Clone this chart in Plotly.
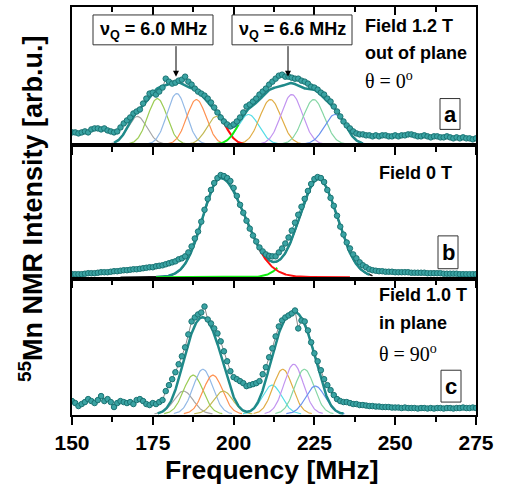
import numpy as np
import plotly.graph_objects as go

# ---------------- data (heights, arb. units) ----------------
FREQ = np.arange(150, 276, 1.0)  # MHz sampling of the spectra

A_DATA = [12, 12, 11, 12, 13, 12, 15, 16, 16, 15,
          16, 14, 13, 12, 13, 17, 21, 24, 27, 31,
          33, 35, 41, 46, 51, 52, 50, 53, 57, 66,
          63, 61, 62, 64, 65, 68, 63, 60, 56, 53,
          51, 49, 46, 42, 37, 32, 27, 23, 20, 18,
          20, 23, 27, 32, 38, 40, 43, 46, 50, 53,
          56, 60, 63, 66, 69, 70, 68, 68, 67, 66,
          66, 64, 63, 61, 58, 57, 55, 52, 50, 46,
          43, 38, 33, 28, 23, 19, 16, 13, 11, 10,
          10, 9, 9, 8, 9, 8, 9, 9, 8, 8,
          9, 8, 9, 9, 10, 10, 9, 8, 8, 9,
          8, 7, 8, 8, 7, 7, 8, 7, 6, 7,
          6, 7, 6, 6, 5, 6]

B_DATA = [3, 3, 3, 3, 3.5, 4, 4, 4, 4.5, 5,
          5, 5, 5.5, 6, 6, 6.5, 7, 7, 7.5, 8,
          8, 8.5, 9, 9.5, 10, 10, 11, 11.5, 12, 13,
          14, 15, 16, 18, 19, 21, 25, 31, 39, 46,
          56, 68, 79, 88, 95, 100, 103, 102, 100, 97,
          90, 82, 73, 65, 57, 49, 42, 36, 30, 26,
          23, 21.5, 21, 21, 25, 29, 34, 40, 47, 55,
          63, 71, 79, 87, 94, 99, 101, 100, 96, 88,
          80, 72, 62, 51, 43, 35, 29, 23, 19, 15,
          12, 10, 8, 7, 6.5, 6, 6, 5.5, 5.5, 5.5,
          5, 5, 5, 5, 5, 4.5, 4.5, 4.5, 4.5, 4.5,
          4, 4, 4, 4, 4, 3.5, 3.5, 3.5, 3.5, 3.5,
          3, 3, 3, 3, 3, 3]

C_DATA = [13, 11, 8, 10, 12, 15, 13, 11, 14, 18,
          13, 15, 12, 7, 11, 13, 12, 11, 12, 10,
          14, 15, 13, 10, 9, 11, 10, 12, 14, 23,
          29, 35, 42, 50, 58, 67, 80, 93, 97, 100,
          102, 108, 95, 91, 86, 81, 73, 63, 53, 43,
          37, 35, 33, 31, 28, 29, 30, 31, 33, 40,
          47, 57, 66, 78, 88, 94, 97, 99, 101, 104,
          86, 94, 93, 84, 72, 61, 53, 44, 35, 29,
          24, 19, 15, 13, 12, 12, 11, 10, 10, 9,
          9, 8.5, 8, 8, 7.5, 7.5, 7, 7, 7, 6.5,
          6.5, 6.5, 6, 6.5, 6, 6, 6, 5.5, 6, 6,
          5.5, 6, 5.5, 6, 6, 5.5, 6, 6, 5.5, 6,
          6, 6.5, 6, 6, 6.5, 6]

# fitted Gaussian components (centre MHz, amplitude, sigma MHz)
A_CENTERS = [170.2, 176.4, 182.4, 188.5, 194.7, 204.6, 211.4, 218.0, 224.8, 231.4]
A_AMPS = [28, 46, 51, 45, 28, 30, 45, 50, 45, 30]
A_SIGMAS = [3.0, 3.0, 3.0, 3.0, 3.0, 3.3, 3.3, 3.3, 3.3, 3.3]

C_CENTERS = [184.5, 187.5, 190.5, 193.6, 196.8, 211.9, 215.2, 218.6, 221.9, 225.3]
C_AMPS = [23, 39, 45, 39, 23, 29, 45, 50, 45, 28]
C_SIGMAS = [3.0, 3.0, 3.0, 3.0, 3.0, 3.0, 3.0, 3.0, 3.0, 3.0]

# panel b: two (slightly asymmetric) lines: centre, amplitude, sigma left, sigma right
B_RED = [196.0, 100, 5.5, 7.5]
B_GREEN = [226.3, 99, 5.9, 5.8]

COMP_COLORS = ["#a6a6a6", "#9ccc55", "#93b9e6", "#ff9150", "#c2b955",
               "#55dde6", "#e0ad45", "#c294f0", "#85d6a5", "#6a93ee"]

TEAL = "#1f8a8a"
FONT = "Liberation Sans, Arial, sans-serif"
SERIF = "Liberation Serif, Times New Roman, serif"


def gauss(x, c, a, s):
    return a * np.exp(-(x - c) ** 2 / (2 * s * s))


def agauss(x, p):
    c, a, sl, sr = p
    s = np.where(x < c, sl, sr)
    return a * np.exp(-(x - c) ** 2 / (2 * s * s))


fig = go.Figure()


def add_components(centers, amps, sigmas, xa, ya):
    for c, a, s, col in zip(centers, amps, sigmas, COMP_COLORS):
        xx = np.linspace(c - 3 * s, c + 3 * s, 80)
        fig.add_trace(go.Scatter(x=xx, y=gauss(xx, c, a, s), mode="lines",
                                 line=dict(color=col, width=1.2),
                                 xaxis=xa, yaxis=ya, hoverinfo="skip"))


def group_sum(xx, centers, amps, sigmas, idx):
    return sum(gauss(xx, centers[i], amps[i], sigmas[i]) for i in idx)


def add_data(data, xa, ya, linecol):
    fig.add_trace(go.Scatter(x=FREQ, y=data, mode="lines",
                             line=dict(color=linecol, width=1),
                             xaxis=xa, yaxis=ya, hoverinfo="skip"))


def add_markers(data, xa, ya):
    fig.add_trace(go.Scatter(x=FREQ, y=data, mode="markers",
                             marker=dict(symbol="circle", size=5.5, color="#3aa3a3",
                                         line=dict(color="#1a7373", width=1)),
                             xaxis=xa, yaxis=ya))


# ---- panel a ----
add_components(A_CENTERS, A_AMPS, A_SIGMAS, "x", "y")
xr = np.linspace(194.5, 203, 60)
fig.add_trace(go.Scatter(x=xr, y=group_sum(xr, A_CENTERS, A_AMPS, A_SIGMAS, range(5)),
                         mode="lines", line=dict(color="#ff1010", width=2), xaxis="x", yaxis="y"))
xg = np.linspace(194, 201.5, 60)
fig.add_trace(go.Scatter(x=xg, y=group_sum(xg, A_CENTERS, A_AMPS, A_SIGMAS, range(5, 10)),
                         mode="lines", line=dict(color="#10ee10", width=2), xaxis="x", yaxis="y"))
add_data(A_DATA, "x", "y", "#8a8a8a")
xe = np.linspace(163, 240, 400)
fig.add_trace(go.Scatter(x=xe, y=group_sum(xe, A_CENTERS, A_AMPS, A_SIGMAS, range(10)),
                         mode="lines", line=dict(color=TEAL, width=2.5), xaxis="x", yaxis="y"))
add_markers(A_DATA, "x", "y")

# ---- panel b ----
add_data(B_DATA, "x2", "y2", TEAL)
xk = np.linspace(165, 243, 400)
fig.add_trace(go.Scatter(x=xk, y=agauss(xk, B_RED) + agauss(xk, B_GREEN), mode="lines",
                         line=dict(color="#1a1a1a", width=1.5), xaxis="x2", yaxis="y2"))
xe = np.linspace(176, 242, 400)
fig.add_trace(go.Scatter(x=xe, y=agauss(xe, B_RED) + agauss(xe, B_GREEN), mode="lines",
                         line=dict(color=TEAL, width=2.5), xaxis="x2", yaxis="y2"))
xg = np.linspace(176, 213.5, 150)
fig.add_trace(go.Scatter(x=xg, y=agauss(xg, B_GREEN), mode="lines",
                         line=dict(color="#10ee10", width=2), xaxis="x2", yaxis="y2"))
xr = np.linspace(207.5, 236, 150)
fig.add_trace(go.Scatter(x=xr, y=agauss(xr, B_RED), mode="lines",
                         line=dict(color="#ff1010", width=2), xaxis="x2", yaxis="y2"))
add_markers(B_DATA, "x2", "y2")

# ---- panel c ----
add_components(C_CENTERS, C_AMPS, C_SIGMAS, "x3", "y3")
add_data(C_DATA, "x3", "y3", "#8a8a8a")
xe = np.linspace(176.5, 234, 400)
fig.add_trace(go.Scatter(x=xe, y=group_sum(xe, C_CENTERS, C_AMPS, C_SIGMAS, range(10)),
                         mode="lines", line=dict(color=TEAL, width=2.5), xaxis="x3", yaxis="y3"))
add_markers(C_DATA, "x3", "y3")

# invisible trace to carry the top tick axis of panel a
fig.add_trace(go.Scatter(x=FREQ, y=A_DATA, mode="lines", opacity=0,
                         xaxis="x4", yaxis="y", hoverinfo="skip"))

# ---------------- layout ----------------
L, R, T, B = 72, 476, 5, 415
W, H = R - L, B - T


def xp(px):
    return (px - L) / W


def yp(py):
    return (B - py) / H


xcommon = dict(range=[150, 275], showline=True, linecolor="black", linewidth=1.5,
               mirror=True, ticks="outside", ticklen=8, tickwidth=1.5, tickcolor="black",
               tick0=150, dtick=25,
               minor=dict(dtick=12.5, ticks="outside", ticklen=5, tickwidth=1.5, tickcolor="black"),
               showgrid=False, zeroline=False, showticklabels=False)
ycommon = dict(showline=True, linecolor="black", linewidth=1.5, mirror=True,
               ticks="", showticklabels=False, showgrid=False, zeroline=False)

fig.update_layout(
    width=507, height=487,
    margin=dict(l=L, r=507 - R, t=T, b=487 - B),
    plot_bgcolor="white", paper_bgcolor="white",
    showlegend=False,
    hovermode=False,
    xaxis=dict(**xcommon, anchor="y"),
    xaxis2=dict(**xcommon, anchor="y2"),
    xaxis3=dict(**{**xcommon, "showticklabels": True}, anchor="y3",
                tickfont=dict(family=FONT, size=21, color="black", weight="bold")),
    xaxis4=dict(range=[150, 275], overlaying="x", side="top", anchor="y",
                ticks="inside", ticklen=8, tickwidth=1.5, tickcolor="black",
                tick0=150, dtick=25,
                minor=dict(dtick=12.5, ticks="inside", ticklen=5, tickwidth=1.5, tickcolor="black"),
                showline=False, showgrid=False, zeroline=False, showticklabels=False),
    yaxis=dict(**ycommon, range=[-1, 138], domain=[yp(144), 1]),
    yaxis2=dict(**ycommon, range=[-1.5, 133], domain=[yp(278), yp(144)]),
    yaxis3=dict(**ycommon, range=[-1, 136], domain=[0, yp(278)]),
)

ann = []


def text(px, py, s, size=18, family=FONT, xanchor="left", bold=True):
    ann.append(dict(x=xp(px), y=yp(py), xref="paper", yref="paper", text=s,
                    showarrow=False, xanchor=xanchor, yanchor="middle",
                    font=dict(family=family, size=size, color="black",
                              weight="bold" if bold else "normal")))


text(363, 24, "Field 1.2 T")
text(363, 51, "out of plane")
text(363, 78, "θ = 0<sup>o</sup>", size=20, family=SERIF, bold=False)
text(377, 172, "Field 0 T")
text(377, 294, "Field 1.0 T")
text(377, 323, "in plane")
text(377, 353, "θ = 90<sup>o</sup>", size=20, family=SERIF, bold=False)

text(153, 29, "ν<sub>Q</sub> = 6.0 MHz", size=18, xanchor="center")
text(292, 29, "ν<sub>Q</sub> = 6.6 MHz", size=18, xanchor="center")

text(450, 113, "a", size=22, xanchor="center")
text(448, 252, "b", size=22, xanchor="center")
text(451, 386, "c", size=22, xanchor="center")

for axx in (176, 288):
    ann.append(dict(x=xp(axx), y=yp(75), xref="paper", yref="paper", text="",
                    showarrow=True, ax=0, ay=-32, arrowhead=2, arrowsize=1.2,
                    arrowwidth=1, arrowcolor="black"))

# axis titles
ann.append(dict(x=xp(272), y=yp(470), xref="paper", yref="paper",
                text="Frequency [MHz]", showarrow=False, xanchor="center", yanchor="middle",
                font=dict(family=FONT, size=26.5, color="black", weight="bold")))
ann.append(dict(x=xp(31), y=yp(208), xref="paper", yref="paper",
                text="<sup>55</sup>Mn NMR Intensity [arb.u.]", showarrow=False,
                textangle=-90, xanchor="center", yanchor="middle",
                font=dict(family=FONT, size=27, color="black", weight="bold")))

fig.update_layout(annotations=ann)

shapes = []
for (x0, y0, x1, y1) in [(93, 13, 213, 43), (232, 13, 352, 43),
                         (440, 97, 460, 128), (438, 235, 458, 268), (441, 370, 461, 402)]:
    shapes.append(dict(type="rect", xref="paper", yref="paper",
                       x0=xp(x0), x1=xp(x1), y0=yp(y1), y1=yp(y0),
                       line=dict(color="#333333", width=1), fillcolor="rgba(0,0,0,0)"))
fig.update_layout(shapes=shapes)

fig.write_html("out.html", config={"displayModeBar": False},
               post_script="document.body.style.margin='0';document.body.style.padding='0';")
